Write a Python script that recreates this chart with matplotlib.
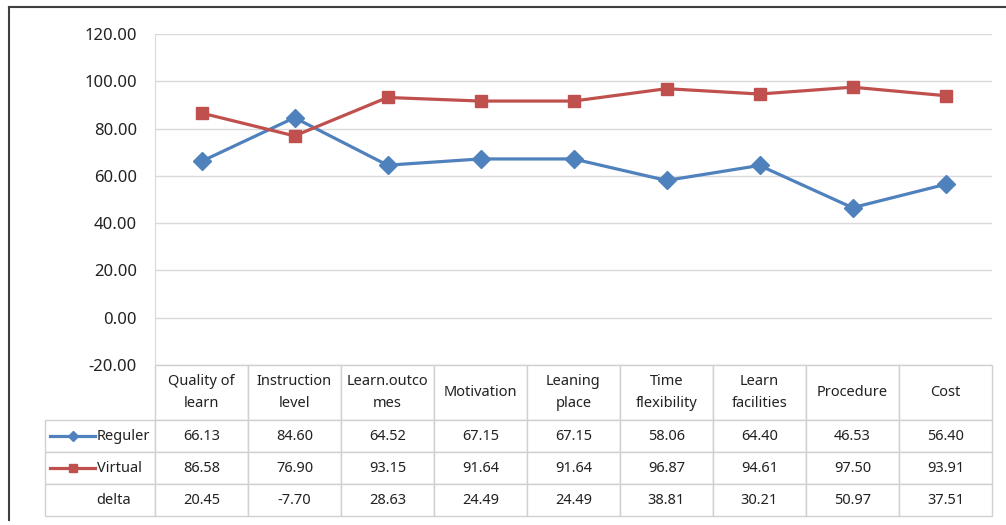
import matplotlib.pyplot as plt
from matplotlib.lines import Line2D
import numpy as np

# data
categories = ['Quality of\nlearn', 'Instruction\nlevel', 'Learn.outco\nmes', 'Motivation',
              'Leaning\nplace', 'Time\nflexibility', 'Learn\nfacilities', 'Procedure', 'Cost']
reguler = [66.13, 84.60, 64.52, 67.15, 67.15, 58.06, 64.40, 46.53, 56.40]
virtual = [86.58, 76.90, 93.15, 91.64, 91.64, 96.87, 94.61, 97.50, 93.91]
delta = [20.45, -7.70, 28.63, 24.49, 24.49, 38.81, 30.21, 50.97, 37.51]
row_names = ['Reguler', 'Virtual', 'delta']

blue = '#4F81BD'
red = '#C0504D'
grid_c = '#D9D9D9'

plt.rcParams['font.family'] = ['Noto Sans', 'DejaVu Sans']

W, H = 1006, 525
fig = plt.figure(figsize=(W / 100, H / 100), dpi=100)

# plot area in pixels
x0, x1 = 155, 992
y_top, y_bot = 34, 365
pw, ph = x1 - x0, y_bot - y_top
ax = fig.add_axes([x0 / W, 1 - y_bot / H, pw / W, ph / H])

x = np.arange(len(categories))
ax.plot(x, reguler, color=blue, lw=2.3, marker='D', ms=9, zorder=3)
ax.plot(x, virtual, color=red, lw=2.3, marker='s', ms=8.5, zorder=3)

ax.set_xlim(-0.5, len(categories) - 0.5)
ax.set_ylim(-20, 120)
ax.set_yticks(np.arange(-20, 121, 20))
ax.set_yticklabels([f'{v:.2f}' for v in np.arange(-20, 121, 20)], fontsize=12,
                   color='#222222')
ax.set_xticks([])
ax.tick_params(axis='y', length=0, pad=13)
ax.grid(axis='y', color=grid_c, lw=1)
ax.set_axisbelow(True)
for s in ['top', 'right', 'bottom']:
    ax.spines[s].set_visible(False)
ax.spines['left'].set_color(grid_c)

# data table under the plot (sizes in axes fractions)
head_h, row_h, lab_w = 55 / ph, 32 / ph, 110 / pw
col_w = 1 / len(categories)
cell_text = [[f'{v:.2f}' for v in row] for row in (reguler, virtual, delta)]
tb_h = head_h + 3 * row_h
tbl = ax.table(cellText=cell_text, colLabels=categories,
               colWidths=[col_w] * len(categories), cellLoc='center',
               bbox=[0, -tb_h, 1, tb_h])
for i, name in enumerate(row_names, start=1):
    lab = tbl.add_cell(i, -1, lab_w, row_h, text=name, loc='left')
    lab.PAD = 0.47
tbl.auto_set_font_size(False)
tbl.set_fontsize(10.5)
for (r, c), cell in tbl.get_celld().items():
    cell.set_edgecolor('#D0D0D0')
    cell.set_linewidth(1)
    cell.set_height(head_h if r == 0 else row_h)
    cell.get_text().set_color('#222222')
    if r == 0:
        cell.get_text().set_linespacing(1.7)

# legend keys inside the row-label cells
for yc, col, mk, ms in [(436, blue, 'D', 5), (468, red, 's', 6)]:
    fig.add_artist(Line2D([50 / W, 95 / W], [1 - yc / H] * 2, color=col, lw=2.3))
    fig.add_artist(Line2D([73 / W], [1 - yc / H], color=col, marker=mk, ms=ms, lw=0))

# outer frame (top and left edges visible)
fig.add_artist(Line2D([9 / W, 1], [1 - 7 / H] * 2, color='#404040', lw=1.5))
fig.add_artist(Line2D([9 / W] * 2, [1 - 7 / H, 1 - 520 / H], color='#404040', lw=1.5))

fig.savefig('out.png', dpi=100)
